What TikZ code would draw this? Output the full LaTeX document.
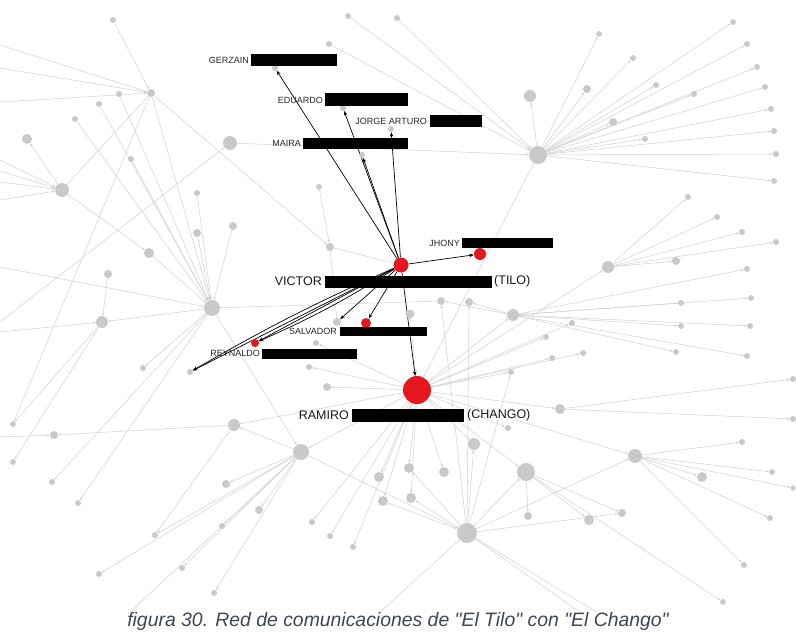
\documentclass[tikz,border=0pt]{standalone}
\usepackage{fontspec}
\setmainfont{Liberation Sans}[Ligatures=TeXOff]
\usetikzlibrary{arrows.meta,backgrounds}
\definecolor{ng}{RGB}{201,201,201}
\definecolor{eg}{RGB}{208,208,208}
\definecolor{rd}{RGB}{228,22,30}
\definecolor{capc}{RGB}{62,70,84}
\begin{document}
\begin{tikzpicture}[x=1pt,y=-1pt,
 gn/.style={circle,fill=ng,inner sep=0pt,minimum size=#1},
 rn/.style={circle,fill=rd,inner sep=0pt,minimum size=#1},
 ge/.style={draw=eg,line width=0.5pt,-{Stealth[length=3pt,width=2.4pt]}},
 gl/.style={draw=eg,line width=0.5pt},
 be/.style={draw=black,line width=0.7pt,-{Stealth[length=4.5pt,width=3.5pt]}},
 bar/.style={fill=black,inner sep=0pt,anchor=north west},
 sl/.style={font=\fontsize{9}{9}\selectfont,anchor=east,inner sep=1pt,text=black!85},
 bl/.style={font=\fontsize{12.5}{13}\selectfont,inner sep=1pt,text=black!90}
]
\useasboundingbox (0,0) rectangle (796,637);

% red nodes
\node[rn=15pt] (V) at (401,265) {};
\node[rn=12pt] (J) at (480,254) {};
\node[rn=28pt] (R) at (417,390) {};
\node[rn=10pt] (S2) at (366,323) {};
\node[rn=8pt] (Ry) at (255,343) {};

% gray nodes
\foreach \n/\x/\y/\s in {
 H1/538/155/18, H2/212/308/16, H3/62/190/14, H4/151/93/8, H5/102/322/12,
 H6/301/452/16, H7/234/425/12, H8/467/533/20, H9/526/472/18, H10/635/456/14,
 H11/608/267/12, H12/513/315/12, H13/560/409/10, M/230/143/14,
 Gz/275/68/6, Ed/343/108/6, Ev/362/155/6, Ja/391/129/6, Sa/337/322/8, Yb/190/372/6, Vm/410/314/9,
 a1/113/20/6, a2/119/94/6, a3/99/104/6, a4/75/119/6, a5/27/139/10, a6/131/159/6,
 a7/197/193/6, a8/197/233/8, a9/233/226/8, a10/149/253/10, a11/108/274/8,
 a12/319/187/6, a13/330/247/8, a14/348/16/6, a15/397/18/6, a16/329/44/6,
 a17/143/368/6, a18/316/343/6, a19/309/367/6, a20/327/387/8,
 a21/13/424/6, a22/13/462/6, a23/54/435/8, a24/52/482/6, a25/78/503/6,
 a26/226/484/8, a27/155/535/6, a28/222/526/6, a29/259/510/8, a30/182/568/6,
 a31/99/574/6, a32/214/593/6, a33/312/522/6, a34/330/536/6, a35/353/547/6,
 a36/379/477/10, a37/383/501/10,
 b1/599/34/6, b2/633/58/6, b3/530/96/12, b4/587/89/8, b5/613/122/8, b6/656/85/6,
 b7/694/94/6, b8/645/139/6, b9/733/22/6, b10/747/44/6, b11/757/67/6, b12/765/87/6,
 b13/771/109/6, b14/774/131/6, b15/776/154/6, b16/774/181/6,
 c1/688/197/6, c2/717/217/6, c3/742/232/6, c4/776/242/6, c5/676/261/8,
 d1/681/303/6, d2/751/298/6, d3/747/269/6, d4/681/326/6, d5/750/326/6,
 d6/676/352/6, d7/747/356/6, d8/441/301/8, d9/469/302/8, d10/572/323/6,
 d11/546/337/6, d12/583/353/6, d13/552/358/6, d14/511/372/6,
 e1/409/468/10, e2/444/472/10, e3/411/498/10, e4/474/444/12, e5/508/428/6,
 e6/528/516/8, e7/589/520/10, e8/622/513/8, e9/702/477/10, e10/742/442/6,
 e11/772/472/6, e12/770/518/6, e13/744/565/6, e14/723/602/6,
 f1/793/379/6, f2/793/419/6, f3/793/488/5}
 \node[gn=\s pt] (\n) at (\x,\y) {};

% off-canvas ends
\foreach \n/\x/\y in {L4a/0/45, L4b/0/68, L4c/0/102, L3a/0/160, L3b/0/171, L3c/0/182, L3d/0/200,
 L2/0/267, L5/0/332, L7/0/437, LM/0/322, B1/128/614, B2/580/612, B3/596/612, B4/380/612}
 \coordinate (\n) at (\x,\y);

\begin{scope}[on background layer]
% gray arrowed edges
\foreach \a/\b in {
 H1/b1, H1/b2, H1/b3, H1/b4, H1/b5, H1/b6, H1/b7, H1/b8, H1/b9, H1/b10, H1/b11, H1/b12,
 H1/b13, H1/b14, H1/b15, H1/b16, a14/H1, a15/H1, a16/H1, M/H1, H1/R,
 H11/c1, H11/c2, H11/c3, H11/c4, H11/c5, R/H11,
 H12/d1, H12/d2, H12/d3, H12/d4, H12/d5, H12/d6, H12/d7, H12/d8, H12/d9, R/H12,
 R/e1, R/e2, R/e3, R/e4, R/e5, R/H13, R/d10, R/d11, R/d12, R/d13, R/d14, R/H9, R/H6,
 R/H7, R/a33, R/a34, R/a35, R/a36, R/a37, R/a18, R/a19, R/a20, Vm/R, R/H10,
 H13/f1, H13/f2,
 H10/e10, H10/e11, H10/f3, H10/e9, H10/e12, H10/e13, H8/H10,
 H9/e7, H9/e8, H9/e14, H9/e6, H8/H9,
 H8/e1, H8/e3, H8/a37, H8/e4, H8/e8, H8/d8, H8/d9, H8/d14,
 H6/a26, H6/a28, H6/a29, H6/a30, H6/a31, H6/a32, H2/H6, H6/H7, H6/H8, H6/a27,
 H7/a23, H7/a27, L7/a23,
 H5/a21, H5/a22, H2/H5, a11/H5, L5/H5,
 a2/H2, a3/H2, a4/H2, a6/H2, a7/H2, a8/H2, a9/H2, a10/H2, H4/H2, H2/a17, H2/a24, H2/a25, L2/H2,
 L3a/H3, L3b/H3, L3c/H3, L3d/H3, H3/a5, H3/a10,
 a1/H4, L4a/H4, L4b/H4, L4c/H4, H4/a13, a12/a13}
 \draw[ge] (\a) -- (\b);
% gray plain edges
\foreach \a/\b in {H2/d8, M/LM, a13/V, H6/B1, H8/B2, H8/B3, H8/B4, H3/H4, H4/a21, a13/Sa}
 \draw[gl] (\a) -- (\b);
% black edges from Victor
\foreach \b in {Gz, Ed, Ev, Ja, J, R, Sa, S2, Ry, Yb}
 \draw[be] (V) -- (\b);
\draw[be] (V) to[bend left=4] (Ry);
\draw[be] (V) to[bend right=3] (Yb);
\end{scope}

% labels with redaction bars
\node[bar,minimum width=86pt,minimum height=12pt] (gzb) at (251,54) {};
\node[sl] (gzl) at (250,60) {GERZAIN};
\node[bar,minimum width=83pt,minimum height=13pt] (edb) at (325,93) {};
\node[sl] (edl) at (324,100) {EDUARDO};
\node[bar,minimum width=52pt,minimum height=12pt] (jab) at (430,115) {};
\node[sl] (jal) at (428,121) {JORGE ARTURO};
\node[bar,minimum width=105pt,minimum height=11pt] (mab) at (303,138) {};
\node[sl] (mal) at (302,143) {MAIRA};
\node[bar,minimum width=91pt,minimum height=10pt] (jhb) at (462,238) {};
\node[sl] (jhl) at (461,243) {JHONY};
\node[bar,minimum width=87pt,minimum height=9pt] (sab) at (340,327) {};
\node[sl] (sal) at (338,331) {SALVADOR};
\node[bar,minimum width=95pt,minimum height=10pt] (reb) at (262,349) {};
\node[sl] (rel) at (261,353) {REYNALDO};
\node[bar,minimum width=167pt,minimum height=12pt] (vib) at (325,276) {};
\node[bl,anchor=east] (vil) at (323,281.5) {VICTOR};
\node[bl,anchor=west] (til) at (493,281.5) {(TILO)};
\node[bar,minimum width=112pt,minimum height=13pt] (rab) at (352,409) {};
\node[bl,anchor=east] (ral) at (350,415.5) {RAMIRO};
\node[bl,anchor=west] (chl) at (466,415.5) {(CHANGO)};

% caption
\node[font=\fontsize{19.4}{22}\selectfont\itshape,text=capc] (cap) at (398,621)
 {figura 30. Red de comunicaciones de "El Tilo" con "El Chango"};
\end{tikzpicture}
\end{document}
